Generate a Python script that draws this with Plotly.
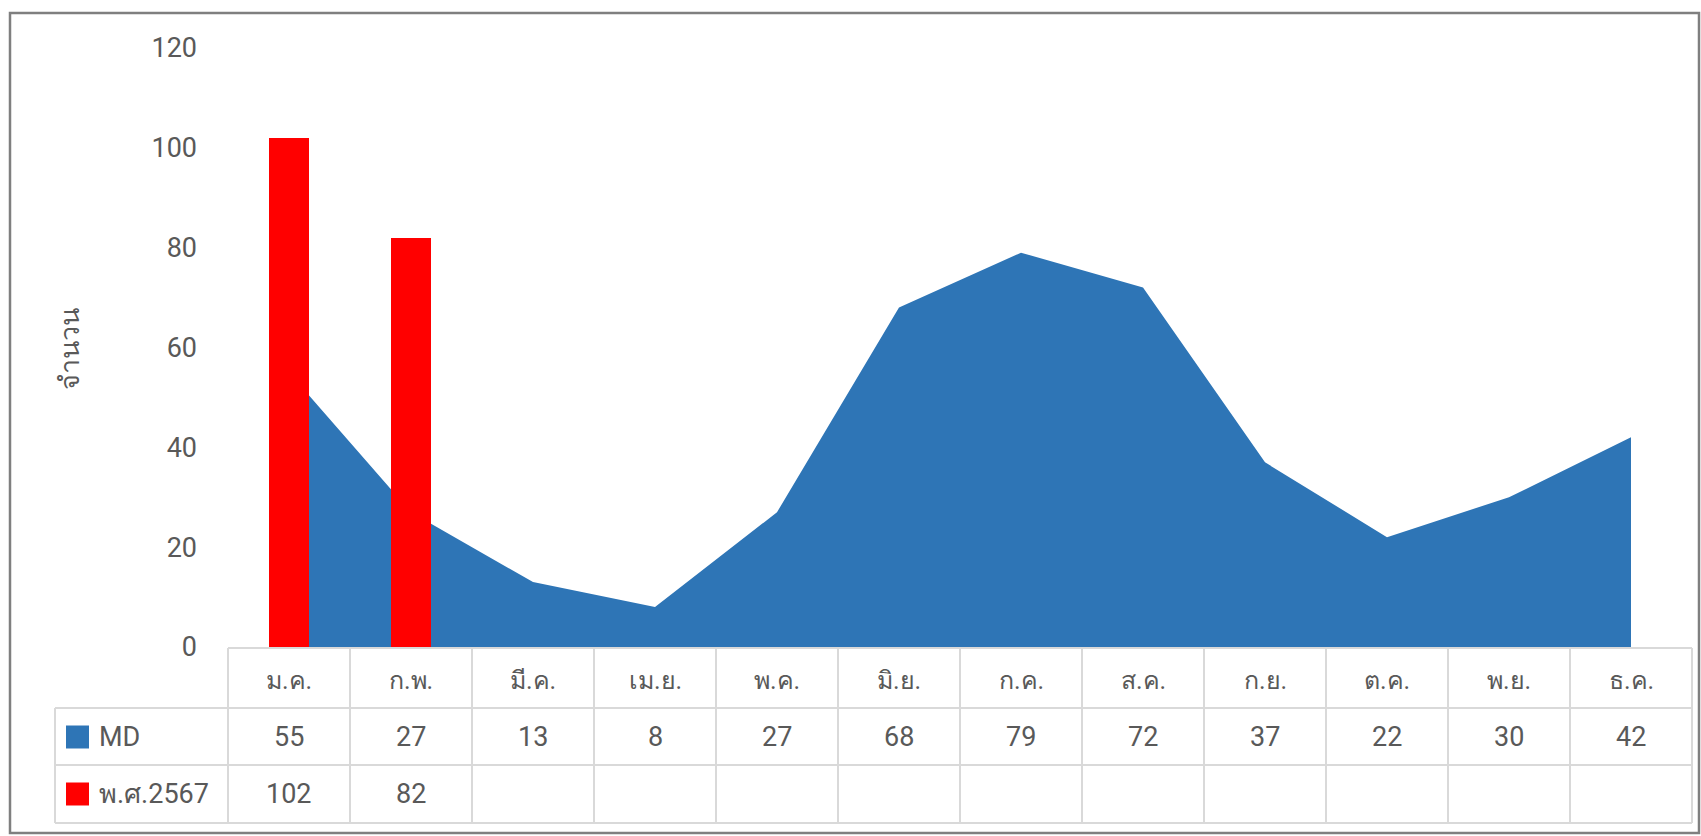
import plotly.graph_objects as go

# ---------------- data ----------------
months = ["ม.ค.", "ก.พ.", "มี.ค.", "เม.ย.", "พ.ค.", "มิ.ย.",
          "ก.ค.", "ส.ค.", "ก.ย.", "ต.ค.", "พ.ย.", "ธ.ค."]
md_values = [55, 27, 13, 8, 27, 68, 79, 72, 37, 22, 30, 42]
y2567_values = [102, 82, None, None, None, None, None, None, None, None, None, None]
series_names = ["MD", "พ.ศ.2567"]
y_ticks = [0, 20, 40, 60, 80, 100, 120]
y_title = "จำนวน"

# ---------------- geometry (pixels) ----------------
W, H = 1701, 836
def px(x):
    return x / W
def py(y):
    return 1 - y / H

plot_left, plot_right = 228, 1692
plot_bottom, plot_top = 647, 48
legend_left = 55
row_lines = [648, 708, 765, 823]
row_centers = [680, 737, 794]

BLUE = "#2E75B6"
RED = "#FF0000"
TXT = "#595959"
GRID = "#D9D9D9"
FONT = "Roboto, Noto Sans, sans-serif"
FS = 27

fig = go.Figure()

fig.add_trace(go.Scatter(
    x=list(range(len(months))), y=md_values, name=series_names[0],
    mode="none", fill="tozeroy", fillcolor=BLUE, hoverinfo="x+y",
    xaxis="x", yaxis="y", showlegend=False,
))
fig.add_trace(go.Bar(
    x=list(range(len(months))), y=y2567_values, name=series_names[1],
    marker=dict(color=RED, line=dict(width=0)), width=0.33,
    xaxis="x2", yaxis="y2", showlegend=False,
))

xdom = [px(plot_left), px(plot_right)]
ydom = [py(plot_bottom), py(plot_top)]
axis_common = dict(showgrid=False, zeroline=False, showline=False, fixedrange=True,
                   automargin=False)

fig.update_layout(
    width=W, height=H,
    margin=dict(l=0, r=0, t=0, b=0, pad=0),
    paper_bgcolor="white", plot_bgcolor="rgba(0,0,0,0)",
    font=dict(family=FONT, color=TXT, size=FS),
    xaxis=dict(domain=xdom, range=[-0.5, 11.5], showticklabels=False, **axis_common),
    yaxis=dict(domain=ydom, range=[0, 120], tickvals=y_ticks, ticks="",
               ticklabelstandoff=30, tickfont=dict(size=FS, color=TXT), **axis_common),
    xaxis2=dict(domain=xdom, range=[-0.5, 11.5], overlaying="x", anchor="y2",
                showticklabels=False, **axis_common),
    yaxis2=dict(domain=ydom, range=[0, 120], overlaying="y", anchor="x2",
                showticklabels=False, **axis_common),
    bargap=0,
)

shapes = []
annotations = []

# outer frame
shapes.append(dict(type="rect", xref="paper", yref="paper",
                   x0=px(10), x1=px(1699), y0=py(833), y1=py(13),
                   line=dict(color="#7F7F7F", width=2.5), fillcolor="rgba(0,0,0,0)"))

# table horizontal lines
for i, yl in enumerate(row_lines):
    x0 = plot_left if i == 0 else legend_left
    shapes.append(dict(type="line", xref="paper", yref="paper",
                       x0=px(x0), x1=px(plot_right), y0=py(yl), y1=py(yl),
                       line=dict(color=GRID, width=2)))
# table vertical lines
col_w = (plot_right - plot_left) / len(months)
for i in range(len(months) + 1):
    xl = plot_left + i * col_w
    shapes.append(dict(type="line", xref="paper", yref="paper",
                       x0=px(xl), x1=px(xl), y0=py(row_lines[0]), y1=py(row_lines[-1]),
                       line=dict(color=GRID, width=2)))
shapes.append(dict(type="line", xref="paper", yref="paper",
                   x0=px(legend_left), x1=px(legend_left), y0=py(row_lines[1]), y1=py(row_lines[-1]),
                   line=dict(color=GRID, width=2)))

# month header + values
for i, m in enumerate(months):
    annotations.append(dict(x=i, xref="x", y=py(row_centers[0]), yref="paper",
                            text=m, showarrow=False, yanchor="middle",
                            font=dict(size=FS - 2, color=TXT)))
    annotations.append(dict(x=i, xref="x", y=py(row_centers[1]), yref="paper",
                            text=str(md_values[i]), showarrow=False, yanchor="middle",
                            font=dict(size=FS, color=TXT)))
    if y2567_values[i] is not None:
        annotations.append(dict(x=i, xref="x", y=py(row_centers[2]), yref="paper",
                                text=str(y2567_values[i]), showarrow=False, yanchor="middle",
                                font=dict(size=FS, color=TXT)))

# legend keys in table
for name, color, yc in [(series_names[0], BLUE, row_centers[1]), (series_names[1], RED, row_centers[2])]:
    shapes.append(dict(type="rect", xref="paper", yref="paper",
                       x0=px(66), x1=px(89), y0=py(yc + 11.5), y1=py(yc - 11.5),
                       line=dict(width=0), fillcolor=color))
    annotations.append(dict(x=px(97), xref="paper", y=py(yc), yref="paper",
                            text=name, showarrow=False, xanchor="left", yanchor="middle",
                            font=dict(size=FS, color=TXT)))

# y-axis title
annotations.append(dict(x=px(70), xref="paper", y=py(349), yref="paper",
                        text=y_title, showarrow=False, textangle=-90,
                        xanchor="center", yanchor="middle",
                        font=dict(size=FS, color=TXT)))

fig.update_layout(shapes=shapes, annotations=annotations)

fig.write_html("out.html", config={"displayModeBar": False},
               post_script="document.body.style.margin='0';document.body.style.overflow='hidden';")
